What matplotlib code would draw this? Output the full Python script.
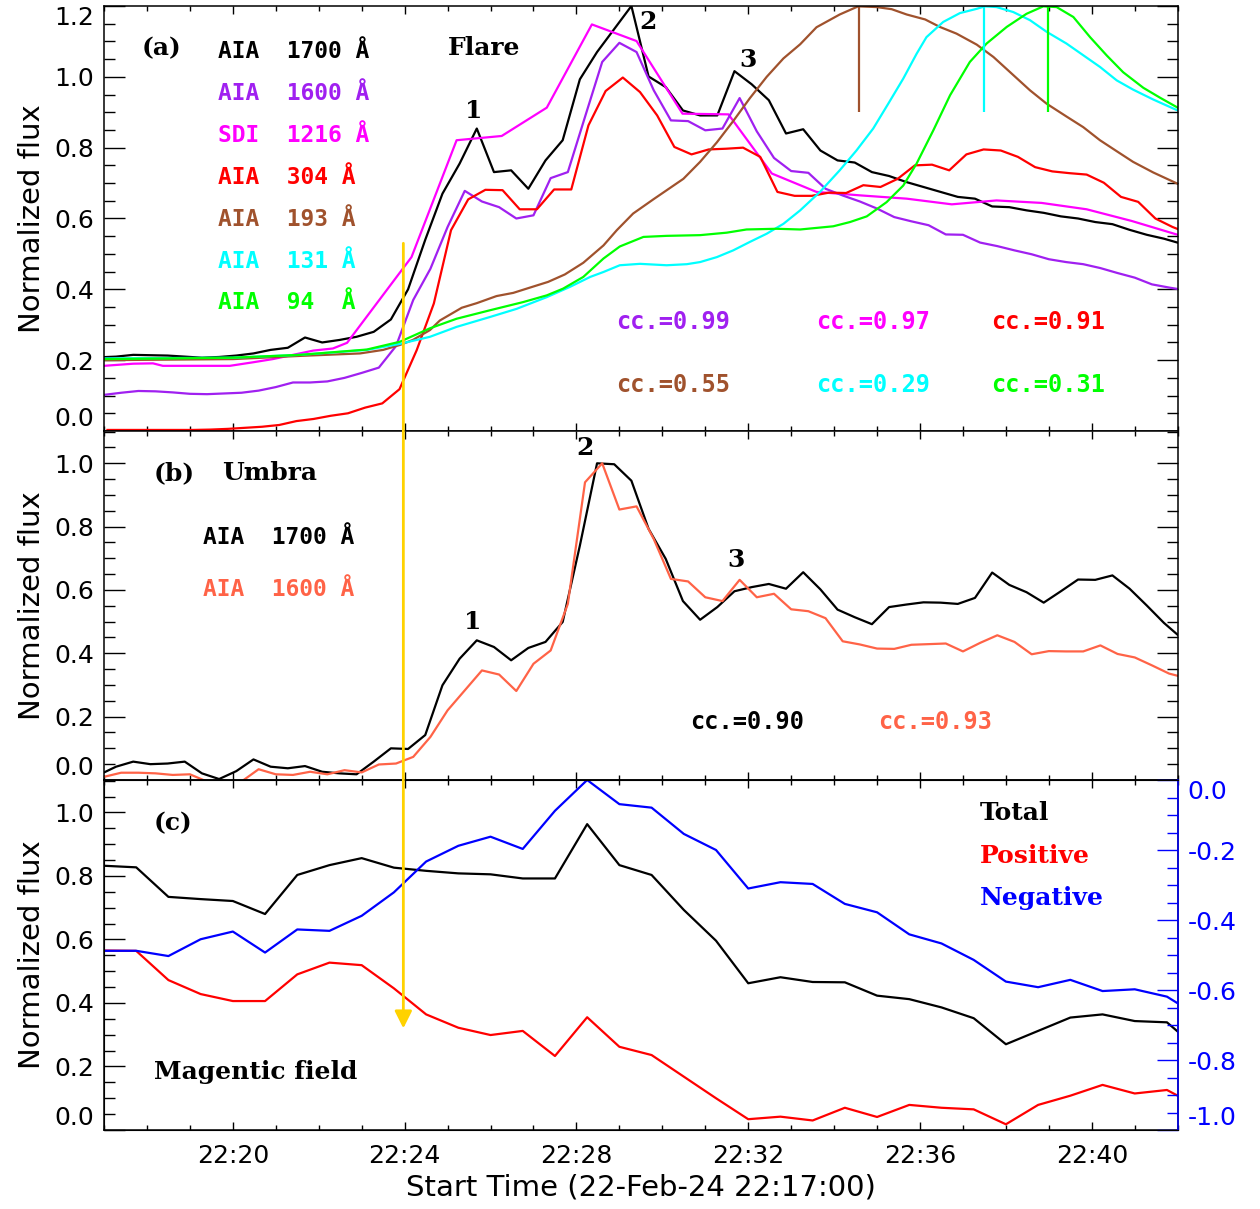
##################################
# Flare / umbra / magnetic field light curves, 22-Feb-2024
##################################

import numpy as np
import matplotlib.pyplot as plt
from matplotlib.patches import ConnectionPatch
from matplotlib.ticker import FixedLocator, MultipleLocator, FuncFormatter, FormatStrFormatter

plt.rcParams["font.family"] = "DejaVu Sans"
W, H = 1260, 1209

# time axis: minutes after 22:00
t0_1700 = 16.88
t0_1600 = 17.00
t0_304 = 17.08
aia_dt = 0.4     # 24 s
hmi_dt = 0.75    # 45 s

# ---- panel (a): flare ----
flare_1700 = [0.208, 0.210, 0.215, 0.214, 0.213, 0.210, 0.207, 0.209, 0.213, 0.219,
              0.229, 0.235, 0.264, 0.250, 0.257, 0.266, 0.280, 0.315, 0.400, 0.540,
              0.670, 0.755, 0.854, 0.731, 0.736, 0.684, 0.764, 0.821, 0.993, 1.070,
              1.135, 1.200, 1.001, 0.971, 0.905, 0.891, 0.891, 1.016, 0.979, 0.934,
              0.840, 0.852, 0.792, 0.764, 0.758, 0.731, 0.720, 0.703, 0.689, 0.675,
              0.661, 0.656, 0.634, 0.632, 0.623, 0.616, 0.606, 0.600, 0.590, 0.584,
              0.568, 0.554, 0.543, 0.529]
flare_1600 = [0.102, 0.108, 0.113, 0.112, 0.109, 0.105, 0.104, 0.106, 0.108, 0.114,
              0.124, 0.137, 0.137, 0.140, 0.150, 0.164, 0.179, 0.240, 0.370, 0.458,
              0.576, 0.678, 0.648, 0.632, 0.600, 0.609, 0.714, 0.731, 0.887, 1.042,
              1.096, 1.070, 0.962, 0.877, 0.875, 0.849, 0.854, 0.940, 0.846, 0.771,
              0.734, 0.729, 0.684, 0.665, 0.648, 0.628, 0.604, 0.592, 0.581, 0.555,
              0.554, 0.532, 0.522, 0.510, 0.499, 0.485, 0.477, 0.471, 0.460, 0.446,
              0.433, 0.414, 0.405, 0.397]
flare_304 = [0.003, 0.003, 0.003, 0.003, 0.003, 0.003, 0.004, 0.006, 0.009, 0.012,
             0.017, 0.028, 0.034, 0.043, 0.050, 0.066, 0.078, 0.118, 0.228, 0.360,
             0.567, 0.654, 0.681, 0.680, 0.626, 0.626, 0.682, 0.682, 0.863, 0.960,
             0.998, 0.957, 0.891, 0.802, 0.781, 0.795, 0.797, 0.800, 0.774, 0.675,
             0.664, 0.664, 0.673, 0.672, 0.694, 0.689, 0.712, 0.750, 0.752, 0.736,
             0.781, 0.795, 0.792, 0.774, 0.745, 0.733, 0.728, 0.724, 0.701, 0.661,
             0.647, 0.600, 0.576, 0.557]

sdi_time = [17.00, 17.68, 18.14, 18.37, 19.93, 20.47, 20.93, 21.40, 21.87, 22.33,
            22.66, 24.16, 25.21, 26.26, 27.31, 28.36, 29.40, 30.47, 31.54, 32.55,
            33.59, 34.64, 35.69, 36.74, 37.78, 38.83, 39.88, 40.93, 42.00]
sdi_1216 = [0.184, 0.190, 0.191, 0.184, 0.184, 0.194, 0.203, 0.215, 0.227, 0.233,
            0.249, 0.491, 0.821, 0.833, 0.913, 1.148, 1.101, 0.896, 0.894, 0.727,
            0.675, 0.665, 0.656, 0.640, 0.651, 0.644, 0.626, 0.593, 0.554]

aia193_time = [17.00, 20.00, 21.56, 22.96, 23.50, 23.89, 24.19, 24.59, 24.82, 25.33,
               25.68, 26.14, 26.53, 26.92, 27.34, 27.73, 28.16, 28.63, 28.94, 29.32,
               29.79, 30.49, 30.88, 31.27, 31.65, 32.04, 32.43, 32.82, 33.21, 33.59,
               34.13, 34.56, 34.99, 35.34, 35.69, 36.12, 36.46, 36.85, 37.32, 37.71,
               38.09, 38.56, 38.95, 39.41, 39.80, 40.19, 40.58, 40.96, 41.43, 42.00]
aia193 = [0.200, 0.203, 0.212, 0.219, 0.229, 0.243, 0.257, 0.285, 0.312, 0.348,
          0.361, 0.381, 0.390, 0.405, 0.421, 0.442, 0.475, 0.524, 0.567, 0.614,
          0.654, 0.712, 0.760, 0.815, 0.875, 0.940, 1.000, 1.052, 1.092, 1.140,
          1.176, 1.199, 1.197, 1.191, 1.176, 1.162, 1.141, 1.122, 1.091, 1.056,
          1.014, 0.962, 0.924, 0.888, 0.858, 0.821, 0.790, 0.760, 0.730, 0.698]

aia131_time = [17.00, 20.00, 21.56, 23.12, 23.89, 24.59, 25.21, 25.99, 26.61, 27.31,
               27.85, 28.32, 28.63, 29.01, 29.48, 30.10, 30.57, 30.88, 31.27, 31.65,
               32.04, 32.43, 32.82, 33.21, 33.67, 34.13, 34.52, 34.91, 35.26, 35.61,
               35.92, 36.15, 36.54, 36.93, 37.32, 37.51, 37.78, 38.17, 38.56, 38.95,
               39.41, 39.80, 40.19, 40.58, 40.96, 41.43, 42.00]
aia131 = [0.205, 0.207, 0.215, 0.229, 0.246, 0.266, 0.294, 0.322, 0.345, 0.378,
          0.407, 0.435, 0.449, 0.468, 0.472, 0.468, 0.471, 0.477, 0.491, 0.510,
          0.534, 0.557, 0.585, 0.623, 0.675, 0.736, 0.792, 0.854, 0.924, 0.995,
          1.065, 1.112, 1.155, 1.180, 1.192, 1.199, 1.197, 1.183, 1.160, 1.127,
          1.094, 1.061, 1.028, 0.990, 0.964, 0.936, 0.905]

aia94_time = [17.00, 20.00, 21.56, 23.12, 23.89, 24.59, 25.21, 25.99, 26.76, 27.31,
              27.69, 28.16, 28.63, 29.01, 29.56, 30.10, 30.88, 31.50, 31.96, 32.66,
              33.21, 33.98, 34.37, 34.76, 35.22, 35.61, 35.92, 36.31, 36.70, 37.16,
              37.55, 38.02, 38.48, 38.87, 39.18, 39.57, 39.96, 40.35, 40.73, 41.20,
              41.59, 42.00]
aia94 = [0.203, 0.207, 0.215, 0.230, 0.252, 0.290, 0.317, 0.341, 0.364, 0.383,
         0.402, 0.435, 0.487, 0.521, 0.548, 0.551, 0.553, 0.560, 0.569, 0.571,
         0.569, 0.578, 0.590, 0.606, 0.646, 0.693, 0.755, 0.849, 0.948, 1.042,
         1.094, 1.141, 1.178, 1.199, 1.197, 1.169, 1.112, 1.060, 1.013, 0.969,
         0.941, 0.913]

peak_times = [34.58, 37.50, 38.99]   # 193, 131, 94 maxima

flare_labels = ["AIA  1700 Å", "AIA  1600 Å", "SDI  1216 Å", "AIA  304 Å",
                "AIA  193 Å", "AIA  131 Å", "AIA  94  Å"]
flare_colors = ["black", "#A020F0", "#FF00FF", "#FF0000", "#A0522D", "#00FFFF", "#00FF00"]
cc_flare = ["0.99", "0.97", "0.91", "0.55", "0.29", "0.31"]

# ---- panel (b): umbra ----
umbra_1700 = [0.016, 0.042, 0.058, 0.050, 0.052, 0.058, 0.021, 0.003, 0.028, 0.065,
              0.042, 0.037, 0.044, 0.026, 0.021, 0.018, 0.058, 0.100, 0.098, 0.142,
              0.299, 0.383, 0.441, 0.420, 0.378, 0.417, 0.436, 0.499, 0.740, 1.000,
              0.997, 0.945, 0.793, 0.698, 0.565, 0.506, 0.546, 0.596, 0.609, 0.619,
              0.604, 0.656, 0.602, 0.538, 0.514, 0.492, 0.546, 0.554, 0.561, 0.560,
              0.556, 0.575, 0.655, 0.616, 0.593, 0.560, 0.596, 0.633, 0.632, 0.646,
              0.604, 0.551, 0.496, 0.449]
umbra_1600 = [0.010, 0.023, 0.023, 0.021, 0.016, 0.018, -0.005, -0.005, -0.005, 0.034,
              0.018, 0.016, 0.026, 0.018, 0.031, 0.024, 0.049, 0.052, 0.073, 0.136,
              0.220, 0.283, 0.346, 0.333, 0.281, 0.367, 0.409, 0.556, 0.940, 1.000,
              0.854, 0.864, 0.761, 0.635, 0.627, 0.577, 0.565, 0.632, 0.577, 0.588,
              0.539, 0.533, 0.511, 0.438, 0.428, 0.415, 0.414, 0.427, 0.429, 0.431,
              0.406, 0.433, 0.457, 0.436, 0.397, 0.407, 0.406, 0.406, 0.425, 0.398,
              0.387, 0.362, 0.336, 0.322]
umbra_colors = ["black", "#FF6347"]
cc_umbra = ["0.90", "0.93"]

# ---- panel (c): magnetic field ----
field_total = [0.832, 0.827, 0.734, 0.727, 0.721, 0.680, 0.803, 0.834, 0.856, 0.826,
               0.816, 0.808, 0.805, 0.792, 0.792, 0.963, 0.834, 0.803, 0.693, 0.596,
               0.462, 0.481, 0.466, 0.465, 0.423, 0.412, 0.386, 0.352, 0.270, 0.312,
               0.354, 0.364, 0.343, 0.339, 0.252]
field_pos = [0.565, 0.564, 0.472, 0.428, 0.406, 0.406, 0.490, 0.527, 0.519, 0.446,
             0.364, 0.322, 0.299, 0.312, 0.233, 0.355, 0.262, 0.236, 0.168, 0.100,
             0.034, 0.042, 0.030, 0.070, 0.041, 0.079, 0.070, 0.065, 0.018, 0.079,
             0.108, 0.142, 0.115, 0.126, 0.072]
field_neg = [-0.488, -0.488, -0.503, -0.455, -0.433, -0.493, -0.427, -0.431, -0.388, -0.321,
             -0.233, -0.188, -0.162, -0.197, -0.088, 0.000, -0.069, -0.079, -0.154, -0.200,
             -0.310, -0.292, -0.297, -0.354, -0.378, -0.441, -0.467, -0.514, -0.576, -0.592,
             -0.571, -0.603, -0.598, -0.619, -0.676]

arrow_time = 23.97
xmin, xmax = 17.0, 42.0
LW = 1.6
SERIF = dict(family="DejaVu Serif", fontsize=18, fontweight="bold", va="center")
MONO = dict(family="DejaVu Sans Mono", fontweight="bold", va="center")


def px(x, y):
    # figure pixel -> figure fraction
    return x / W, 1 - y / H


def aia_time(t0, n):
    return t0 + aia_dt * np.arange(n)


def style_axis(ax, ymax, yticks, labelbottom=False, right=True):
    ax.set_xlim(xmin, xmax)
    ax.set_ylim(0, ymax)
    ax.xaxis.set_major_locator(FixedLocator([20, 24, 28, 32, 36, 40]))
    ax.xaxis.set_minor_locator(MultipleLocator(1))
    ax.xaxis.set_major_formatter(FuncFormatter(lambda v, p: "22:%02d" % int(round(v))))
    ax.yaxis.set_major_locator(FixedLocator(yticks))
    ax.yaxis.set_minor_locator(MultipleLocator(0.05))
    ax.yaxis.set_major_formatter(FormatStrFormatter("%.1f"))
    ax.tick_params(which="both", direction="in", top=True, right=right, width=1.0,
                   labelsize=18, labelbottom=labelbottom)
    ax.tick_params(axis="y", which="major", length=15, pad=7)
    ax.tick_params(axis="y", which="minor", length=8)
    ax.tick_params(axis="x", which="major", length=5.5, pad=10)
    ax.tick_params(axis="x", which="minor", length=3.5)
    for s in ax.spines.values():
        s.set_linewidth(1.1)
    ax.set_ylabel("Normalized flux", fontsize=21, labelpad=6)
    ticks = ax.yaxis.get_major_ticks()
    ticks[0].label1.set_va("bottom")
    if abs(yticks[-1] - ymax) < 1e-6:
        ticks[-1].label1.set_va("top")


def plot_flare(fig, ax):
    ax.plot(aia_time(t0_1700, len(flare_1700)), flare_1700, c=flare_colors[0], lw=LW)
    ax.plot(sdi_time, sdi_1216, c=flare_colors[2], lw=LW)
    ax.plot(aia_time(t0_1600, len(flare_1600)), flare_1600, c=flare_colors[1], lw=LW)
    ax.plot(aia_time(t0_304, len(flare_304)), flare_304, c=flare_colors[3], lw=LW)
    ax.plot(aia193_time, aia193, c=flare_colors[4], lw=LW)
    ax.plot(aia131_time, aia131, c=flare_colors[5], lw=LW)
    ax.plot(aia94_time, aia94, c=flare_colors[6], lw=LW)
    ax.vlines(peak_times, 0.9, 1.2, colors=flare_colors[4:], lw=LW)
    style_axis(ax, 1.2, [0, 0.2, 0.4, 0.6, 0.8, 1.0, 1.2])

    fig.text(*px(142, 48), "(a)", **SERIF)
    for k, (lab, col) in enumerate(zip(flare_labels, flare_colors)):
        fig.text(*px(218, 52 + 41.8 * k), lab, color=col, fontsize=16.5, **MONO)
    fig.text(*px(448, 48), "Flare", **SERIF)
    for num, (x, y) in zip("123", [(474, 111), (648, 22), (748, 60)]):
        fig.text(*px(x, y), num, ha="center", **SERIF)
    for k, cc in enumerate(cc_flare):
        x = [616, 816, 991][k % 3]
        y = [322, 385][k // 3]
        fig.text(*px(x, y), "cc.=" + cc, color=flare_colors[k + 1], fontsize=17, **MONO)


def plot_umbra(fig, ax):
    ax.plot(aia_time(t0_1700, len(umbra_1700)), umbra_1700, c=umbra_colors[0], lw=LW)
    ax.plot(aia_time(t0_1600, len(umbra_1600)), umbra_1600, c=umbra_colors[1], lw=LW)
    style_axis(ax, 1.102, [0, 0.2, 0.4, 0.6, 0.8, 1.0])

    fig.text(*px(154, 473), "(b)", **SERIF)
    fig.text(*px(222, 473), "Umbra", **SERIF)
    fig.text(*px(203, 537), "AIA  1700 Å", color=umbra_colors[0], fontsize=16.5, **MONO)
    fig.text(*px(203, 590), "AIA  1600 Å", color=umbra_colors[1], fontsize=16.5, **MONO)
    for num, (x, y) in zip("123", [(473, 622), (585, 448), (736, 560)]):
        fig.text(*px(x, y), num, ha="center", **SERIF)
    for k, cc in enumerate(cc_umbra):
        fig.text(*px([690, 878][k], 722), "cc.=" + cc, color=umbra_colors[k],
                 fontsize=17, **MONO)


def plot_field(fig, ax):
    t = xmin + hmi_dt * np.arange(len(field_total))
    ax.plot(t, field_total, c="black", lw=LW)
    ax.plot(t, field_pos, c="#FF0000", lw=LW)
    style_axis(ax, 1.102, [0, 0.2, 0.4, 0.6, 0.8, 1.0], labelbottom=True, right=False)
    ax.set_xlabel("Start Time (22-Feb-24 22:17:00)", fontsize=21, labelpad=4)

    axr = ax.twinx()
    axr.plot(t, field_neg, c="#0000FF", lw=LW)
    axr.set_ylim(-1.0, 0.0)
    axr.yaxis.set_major_locator(FixedLocator([-1.0, -0.8, -0.6, -0.4, -0.2, 0.0]))
    axr.yaxis.set_minor_locator(MultipleLocator(0.05))
    axr.yaxis.set_major_formatter(FormatStrFormatter("%.1f"))
    axr.tick_params(which="both", direction="in", colors="#0000FF", labelsize=18, width=1.0)
    axr.tick_params(which="major", length=15, pad=7)
    axr.tick_params(which="minor", length=8)
    axr.spines["right"].set_color("#0000FF")
    axr.spines["right"].set_linewidth(1.1)
    rt = axr.yaxis.get_major_ticks()
    rt[0].label2.set_va("bottom")
    rt[-1].label2.set_va("top")

    fig.text(*px(154, 823), "(c)", **SERIF)
    fig.text(*px(154, 1072), "Magentic field", **SERIF)
    for lab, col, y in zip(["Total", "Positive", "Negative"],
                           ["black", "#FF0000", "#0000FF"], [813, 856, 898]):
        fig.text(*px(980, y), lab, color=col, **SERIF)
    return axr


fig = plt.figure(figsize=(W / 100, H / 100), dpi=100)
left, width = 104 / W, 1073.7 / W
ax1 = fig.add_axes([left, 1 - 431 / H, width, 425 / H])
ax2 = fig.add_axes([left, 1 - 780 / H, width, 349 / H])
ax3 = fig.add_axes([left, 1 - 1130 / H, width, 350 / H])

plot_flare(fig, ax1)
plot_umbra(fig, ax2)
axr = plot_field(fig, ax3)

# yellow arrow from the flare onset down to the field panel
arrow = ConnectionPatch(xyA=(arrow_time, 0.53), coordsA=ax1.transData,
                        xyB=(arrow_time, 0.32), coordsB=ax3.transData,
                        arrowstyle="-|>", mutation_scale=26, color="#FFD200", lw=2.0, zorder=10)
fig.add_artist(arrow)

fig.savefig("out.png", dpi=100)
